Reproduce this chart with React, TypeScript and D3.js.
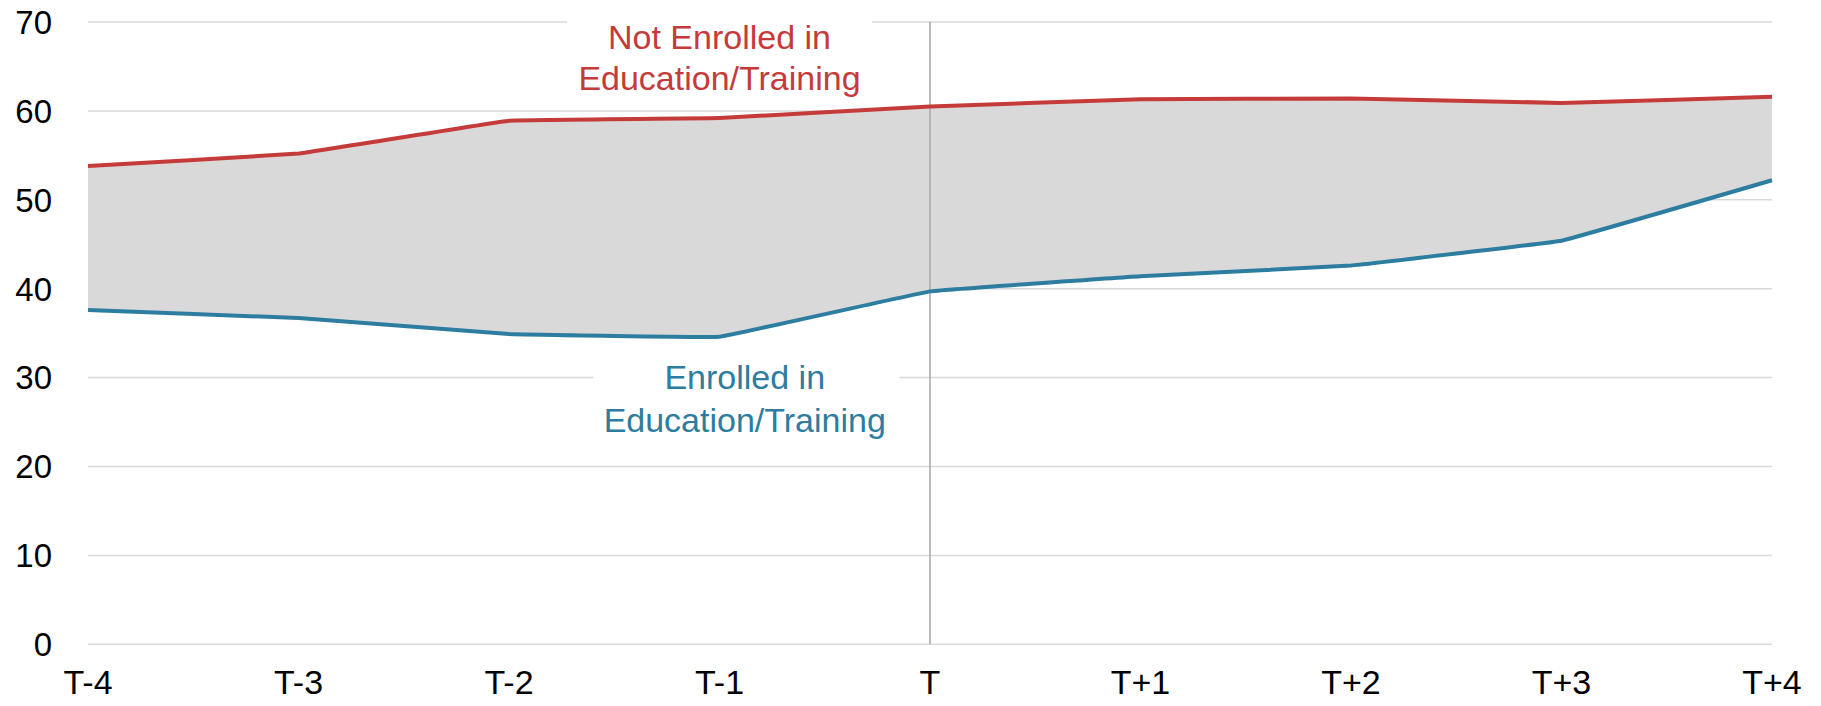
import React from "react";
import * as d3 from "d3";

// periods relative to enrolment year T
const periods = ["T-4", "T-3", "T-2", "T-1", "T", "T+1", "T+2", "T+3", "T+4"];
const notEnrolled = [53.8, 55.2, 58.9, 59.2, 60.5, 61.3, 61.4, 60.9, 61.6];
const enrolled = [37.6, 36.7, 34.9, 34.6, 39.7, 41.4, 42.6, 45.4, 52.2];
const yTicks = [0, 10, 20, 30, 40, 50, 60, 70];

const W = 1821;
const H = 706;
const FONT = "'Liberation Sans', Arial, sans-serif";
const RED = "#C43B3A";
const BLUE = "#2C7DA0";

export default function App() {
  const x = d3.scalePoint<string>().domain(periods).range([88, 1772]);
  const y = d3.scaleLinear().domain([0, 70]).range([644.3, 22]);

  const idx = periods.map((_, i) => i);
  const curve = d3.curveCardinal.tension(0.85);

  const band = d3
    .area<number>()
    .x((i) => x(periods[i])!)
    .y0((i) => y(enrolled[i]))
    .y1((i) => y(notEnrolled[i]))
    .curve(curve);

  const mkLine = (vals: number[]) =>
    d3
      .line<number>()
      .x((i) => x(periods[i])!)
      .y((i) => y(vals[i]))
      .curve(curve)(idx);

  const step = x.step();
  const xAt = (pos: number) => x(periods[0])! + pos * step;

  return (
    <svg
      width={W}
      height={H}
      style={{ position: "absolute", left: 0, top: 0, background: "#fff" }}
      fontFamily={FONT}
    >
      {/* gridlines */}
      {yTicks.map((t) => (
        <line key={t} x1={88} x2={1772} y1={y(t)} y2={y(t)} stroke="#D9D9D9" strokeWidth={1.5} />
      ))}

      <path d={band(idx)!} fill="#D9D9D9" />

      {/* series labels with white backing */}
      <rect x={xAt(2.276)} y={y(71)} width={305} height={y(61.5) - y(71)} fill="#fff" />
      <text x={xAt(3)} textAnchor="middle" fontSize={34} fill={RED}>
        <tspan x={xAt(3)} y={y(67)}>Not Enrolled in</tspan>
        <tspan x={xAt(3)} y={y(62.3)}>Education/Training</tspan>
      </text>

      <rect x={xAt(2.4)} y={y(32)} width={306} height={y(22) - y(32)} fill="#fff" />
      <text x={xAt(3.12)} textAnchor="middle" fontSize={34} fill={BLUE}>
        <tspan x={xAt(3.12)} y={y(28.7)}>Enrolled in</tspan>
        <tspan x={xAt(3.12)} y={y(23.9)}>Education/Training</tspan>
      </text>

      {/* reference line at T */}
      <line x1={x("T")} x2={x("T")} y1={y(70)} y2={y(0)} stroke="#A6A6A6" strokeWidth={1.5} />

      <path d={mkLine(notEnrolled)!} fill="none" stroke={RED} strokeWidth={4} strokeLinejoin="round" />
      <path d={mkLine(enrolled)!} fill="none" stroke={BLUE} strokeWidth={4} strokeLinejoin="round" />

      {/* y axis labels */}
      {yTicks.map((t) => (
        <text key={t} x={52} y={y(t)} dy="0.36em" textAnchor="end" fontSize={33} fill="#000">
          {t}
        </text>
      ))}

      {/* x axis labels */}
      {periods.map((p) => (
        <text key={p} x={x(p)} y={694} textAnchor="middle" fontSize={34} fill="#000">
          {p}
        </text>
      ))}
    </svg>
  );
}
